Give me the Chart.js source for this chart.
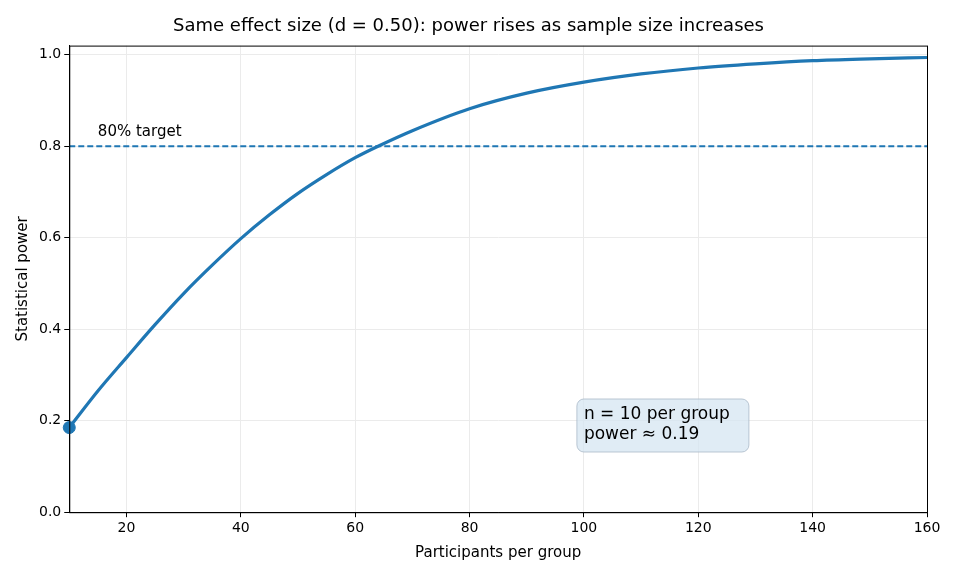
<!DOCTYPE html>
<html>
<head>
<meta charset="utf-8">
<script src="https://cdn.jsdelivr.net/npm/chart.js@4.4.0/dist/chart.umd.min.js"></script>
<style>
  html, body { margin: 0; padding: 0; background: #fff; }
  #wrap { width: 960px; height: 576px; }
</style>
</head>
<body>
<div id="wrap"><canvas id="grafico"></canvas></div>
<script>
// Dados
const amostras = [10, 15, 20, 25, 30, 35, 40, 45, 50, 55, 60, 64, 70, 80, 90, 100, 110, 120, 130, 140, 150, 160];
const poder = [0.185, 0.265, 0.338, 0.41, 0.478, 0.54, 0.598, 0.65, 0.697, 0.738, 0.775, 0.80, 0.834, 0.882, 0.916, 0.940, 0.958, 0.971, 0.980, 0.987, 0.991, 0.994];
const alvo = 0.8;
const pontoN = 10, pontoPoder = 0.185;
const ticksX = [20, 40, 60, 80, 100, 120, 140, 160];

const fonte = "'DejaVu Sans', sans-serif";
const azul = "#1f77b4";

// Textos e moldura
const extras = {
    id: "extras",
    afterDraw(chart) {
        const { ctx, chartArea: a, scales: { x, y } } = chart;
        ctx.save();
        ctx.strokeStyle = "#000";
        ctx.lineWidth = 1;
        ctx.strokeRect(a.left + 0.5, a.top + 0.5, a.right - a.left, a.bottom - a.top);

        ctx.fillStyle = "#000";
        ctx.font = "15px " + fonte;
        ctx.textBaseline = "middle";
        ctx.fillText("80% target", x.getPixelForValue(15), y.getPixelForValue(0.83));

        // caixa de anotação
        const bx = x.getPixelForValue(100) - 7, by = 399, bw = 172, bh = 53;
        ctx.fillStyle = "rgba(214,230,242,0.75)";
        ctx.strokeStyle = "rgba(170,185,200,0.8)";
        ctx.beginPath();
        ctx.roundRect(bx, by, bw, bh, 7);
        ctx.fill(); ctx.stroke();
        ctx.fillStyle = "#000";
        ctx.font = "17px " + fonte;
        ctx.fillText("n = 10 per group", bx + 7, by + 16);
        ctx.fillText("power \u2248 0.19", bx + 7, by + 36);
        ctx.restore();
    }
};

new Chart(document.getElementById("grafico"), {
    type: "line",
    data: {
        datasets: [
            {
                data: amostras.map((n, i) => ({ x: n, y: poder[i] })),
                borderColor: azul, borderWidth: 3.2, pointRadius: 0,
                tension: 0.4, cubicInterpolationMode: "monotone", clip: false
            },
            {
                data: [{ x: 10, y: alvo }, { x: 160, y: alvo }],
                borderColor: azul, borderWidth: 1.8, borderDash: [6, 3], pointRadius: 0
            },
            {
                data: [{ x: pontoN, y: pontoPoder }],
                borderColor: azul, backgroundColor: azul, pointRadius: 6, showLine: false, clip: false
            }
        ]
    },
    options: {
        responsive: true,
        maintainAspectRatio: false,
        animation: false,
        layout: { padding: { left: 10, right: 33, top: 4, bottom: 10 } },
        plugins: {
            legend: { display: false },
            tooltip: { enabled: false },
            title: {
                display: true,
                text: "Same effect size (d = 0.50): power rises as sample size increases",
                color: "#000",
                font: { family: fonte, size: 18, weight: "normal" },
                padding: { top: 12, bottom: 8 }
            }
        },
        scales: {
            x: {
                type: "linear", min: 10, max: 160,
                afterBuildTicks: ax => { ax.ticks = ticksX.map(v => ({ value: v })); },
                grid: { color: "#ebebeb", tickColor: "#000", tickLength: 5 },
                border: { color: "#000" },
                ticks: { color: "#000", font: { family: fonte, size: 14 }, padding: 3 },
                title: { display: true, text: "Participants per group", color: "#000", font: { family: fonte, size: 15 } }
            },
            y: {
                min: 0, max: 1.02,
                afterBuildTicks: ax => { ax.ticks = [0, 0.2, 0.4, 0.6, 0.8, 1.0].map(v => ({ value: v })); },
                grid: { color: "#ebebeb", tickColor: "#000", tickLength: 5 },
                border: { color: "#000" },
                ticks: { color: "#000", font: { family: fonte, size: 14 }, padding: 3, callback: v => v.toFixed(1) },
                title: { display: true, text: "Statistical power", color: "#000", font: { family: fonte, size: 15 } }
            }
        }
    },
    plugins: [extras]
});
</script>
</body>
</html>
